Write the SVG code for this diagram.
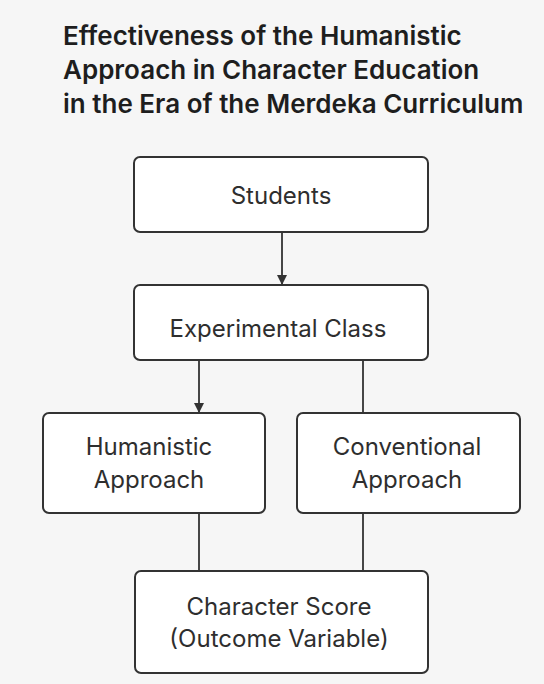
<svg xmlns="http://www.w3.org/2000/svg" width="544" height="684" viewBox="0 0 544 684">
<style>
.bg{fill:#f6f6f6}
.box{fill:#ffffff;stroke:#333333;stroke-width:2}
.t{font-family:Inter,"Noto Sans","Liberation Sans",sans-serif;font-size:24px;fill:#2e2e2e;text-anchor:middle}
.title{font-family:Inter,"Noto Sans","Liberation Sans",sans-serif;font-size:26px;font-weight:600;fill:#1e1e1e}
.c{stroke:#333333;stroke-width:1.8;fill:none}
</style>
<defs>
<marker id="ah" markerWidth="10" markerHeight="10" refX="9" refY="5" orient="auto" markerUnits="userSpaceOnUse">
<path d="M0,0 L10,5 L0,10 Z" fill="#333333"/>
</marker>
</defs>
<rect class="bg" x="0" y="0" width="544" height="684"/>
<g id="title">
<text class="title" x="63" y="45">Effectiveness of the Humanistic</text>
<text class="title" x="63" y="79">Approach in Character Education</text>
<text class="title" x="63" y="113">in the Era of the Merdeka Curriculum</text>
</g>
<g id="connectors">
<line class="c" x1="282" y1="232" x2="282" y2="284" marker-end="url(#ah)"/>
<line class="c" x1="199" y1="360" x2="199" y2="412" marker-end="url(#ah)"/>
<line class="c" x1="363" y1="360" x2="363" y2="413"/>
<line class="c" x1="199" y1="513" x2="199" y2="571"/>
<line class="c" x1="363" y1="513" x2="363" y2="571"/>
</g>
<g id="students">
<rect class="box" x="134" y="157" width="294" height="75" rx="6"/>
<text class="t" x="281" y="204">Students</text>
</g>
<g id="experimental">
<rect class="box" x="134" y="285" width="294" height="75" rx="6"/>
<text class="t" x="278" y="337">Experimental Class</text>
</g>
<g id="humanistic">
<rect class="box" x="43" y="413" width="222" height="100" rx="6"/>
<text class="t" x="149" y="455">Humanistic</text>
<text class="t" x="149" y="488">Approach</text>
</g>
<g id="conventional">
<rect class="box" x="297" y="413" width="223" height="100" rx="6"/>
<text class="t" x="407" y="455">Conventional</text>
<text class="t" x="407" y="488">Approach</text>
</g>
<g id="outcome">
<rect class="box" x="135" y="571" width="293" height="102" rx="6"/>
<text class="t" x="279" y="615">Character Score</text>
<text class="t" x="279" y="647">(Outcome Variable)</text>
</g>
</svg>
